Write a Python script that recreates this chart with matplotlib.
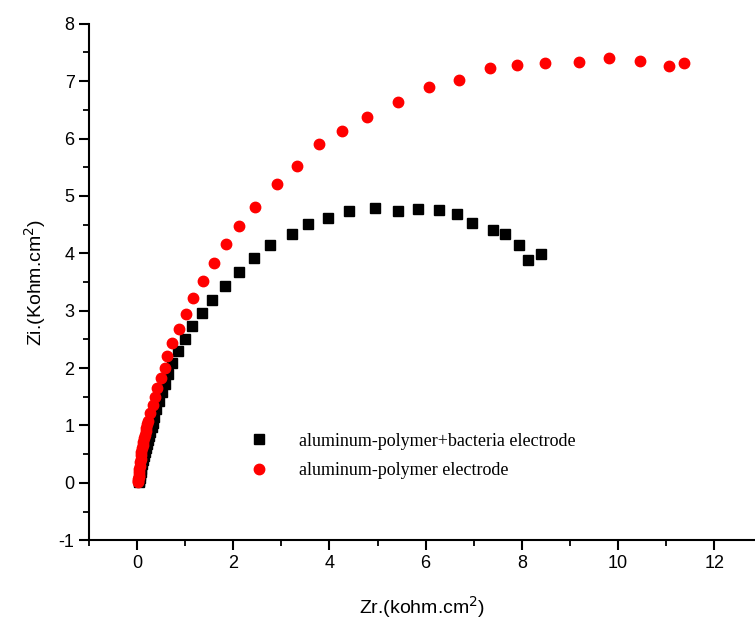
import matplotlib
matplotlib.use('Agg')
import matplotlib.pyplot as plt
from matplotlib.ticker import MultipleLocator

plt.rcParams['axes.unicode_minus'] = False

# aluminum-polymer+bacteria electrode (black squares)
bact_zr = [0.035, 0.04, 0.05, 0.06, 0.07, 0.08, 0.10, 0.12, 0.14, 0.16, 0.18, 0.20,
           0.22, 0.25, 0.27, 0.30, 0.33, 0.36, 0.40, 0.46, 0.51, 0.57, 0.64, 0.72,
           0.85, 0.99, 1.15, 1.34, 1.56, 1.82, 2.11, 2.42, 2.77, 3.21, 3.55, 3.97,
           4.41, 4.95, 5.42, 5.85, 6.28, 6.65, 6.96, 7.40, 7.66, 7.94, 8.13, 8.40]
bact_zi = [0.01, 0.04, 0.08, 0.13, 0.19, 0.25, 0.32, 0.39, 0.46, 0.53, 0.60, 0.67,
           0.74, 0.82, 0.89, 0.97, 1.05, 1.14, 1.29, 1.43, 1.58, 1.73, 1.90, 2.08,
           2.29, 2.51, 2.73, 2.96, 3.19, 3.43, 3.67, 3.91, 4.15, 4.34, 4.51, 4.62,
           4.74, 4.79, 4.73, 4.78, 4.75, 4.69, 4.53, 4.40, 4.34, 4.14, 3.89, 3.99]

# aluminum-polymer electrode (red circles)
poly_zr = [0.02, 0.02, 0.025, 0.03, 0.035, 0.04, 0.045, 0.05, 0.06, 0.07, 0.08, 0.09,
           0.10, 0.115, 0.13, 0.145, 0.16, 0.175, 0.19, 0.21, 0.23, 0.27, 0.33, 0.375,
           0.42, 0.49, 0.57, 0.625, 0.73, 0.86, 1.01, 1.17, 1.36, 1.60, 1.85, 2.12,
           2.46, 2.90, 3.33, 3.78, 4.27, 4.79, 5.42, 6.08, 6.70, 7.34, 7.91, 8.49,
           9.19, 9.81, 10.46, 11.06, 11.375]
poly_zi = [0.01, 0.03, 0.06, 0.10, 0.14, 0.19, 0.24, 0.30, 0.36, 0.42, 0.48, 0.54,
           0.60, 0.66, 0.72, 0.78, 0.84, 0.90, 0.96, 1.02, 1.08, 1.22, 1.36, 1.50,
           1.65, 1.82, 2.00, 2.21, 2.44, 2.68, 2.95, 3.23, 3.52, 3.83, 4.17, 4.47,
           4.80, 5.21, 5.53, 5.90, 6.13, 6.38, 6.64, 6.89, 7.02, 7.23, 7.29, 7.32,
           7.34, 7.40, 7.35, 7.26, 7.31]

fig = plt.figure(figsize=(7.55, 6.26), dpi=100)
ax = fig.add_axes([0.118, 0.137, 0.882, 0.825])

ax.plot(bact_zr, bact_zi, 's', color='black', markersize=6.5,
        label='aluminum-polymer+bacteria electrode')
ax.plot(poly_zr, poly_zi, 'o', color='red', markersize=7.5,
        label='aluminum-polymer electrode')

ax.set_xlim(-1, 12.85)
ax.set_ylim(-1, 8)
ax.xaxis.set_major_locator(MultipleLocator(2))
ax.xaxis.set_minor_locator(MultipleLocator(1))
ax.yaxis.set_major_locator(MultipleLocator(1))
ax.yaxis.set_minor_locator(MultipleLocator(0.5))

for side in ['top', 'right']:
    ax.spines[side].set_visible(False)
for side in ['left', 'bottom']:
    ax.spines[side].set_linewidth(1.5)

ax.tick_params(which='major', direction='out', length=7, width=1.5,
               labelsize=13, labelfontfamily='Liberation Sans')
ax.tick_params(which='minor', direction='out', length=4, width=1.3)

ax.set_xlabel('Zr.(kohm.cm$^2$)', fontsize=14, family='Liberation Sans', labelpad=16)
ax.set_ylabel('Zi.(Kohm.cm$^2$)', fontsize=14, family='Liberation Sans', labelpad=8)

ax.legend(loc='upper left', bbox_to_anchor=(0.307, 0.335), bbox_transform=fig.transFigure,
          frameon=False, handlelength=1.2, handletextpad=1.6, labelspacing=0.7,
          prop={'family': 'Liberation Serif', 'size': 13})

fig.savefig('out.png', dpi=100)
